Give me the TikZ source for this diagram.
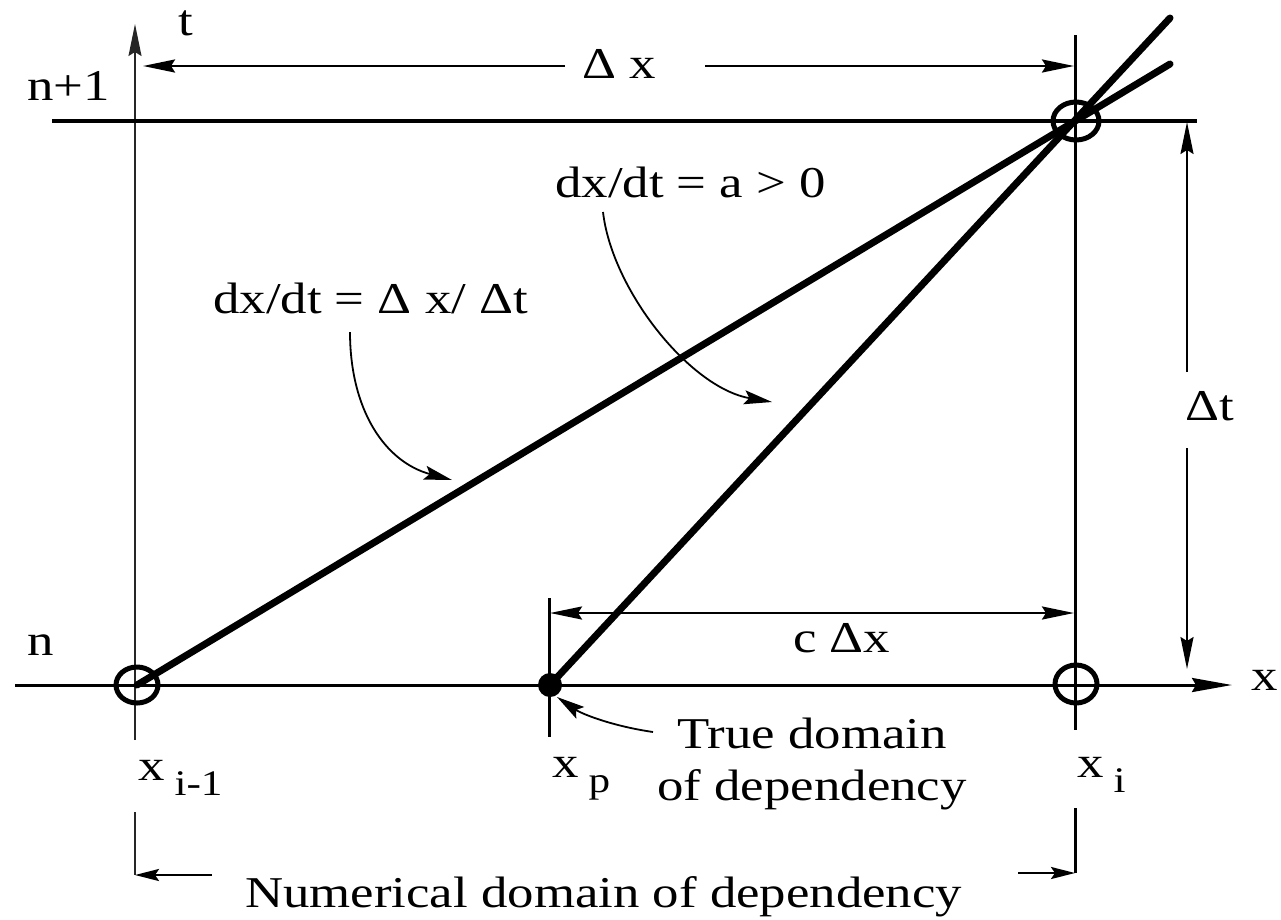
\documentclass[tikz,border=0pt]{standalone}
\usepackage{fontspec}
\setmainfont{Liberation Serif}[FakeStretch=1.2]
\usetikzlibrary{arrows.meta}
\newcommand\mysub[1]{\hspace{10pt}\raisebox{-15pt}{\fontsize{36}{40}\selectfont #1}}
\begin{document}
\begin{tikzpicture}[x=1pt,y=-1pt,
  every node/.style={font=\fontsize{44}{52}\selectfont, inner sep=0pt, anchor=base west},
  thinline/.style={line width=1.5pt, black!85},
  axisline/.style={line width=3pt},
  topline/.style={line width=3.5pt},
  boldline/.style={line width=7pt, line cap=round},
  circ/.style={line width=5pt},
  dimline/.style={line width=2.5pt},
  tipA/.style={-{Stealth[length=40pt,width=14pt,inset=4pt]}},
  tipB/.style={-{Stealth[length=32pt,width=13pt,inset=4pt]}},
  tipC/.style={-{Stealth[length=24pt,width=12pt,inset=4pt]}},
  curvearrow/.style={line width=1.8pt, -{Stealth[length=28pt,width=14pt,inset=5pt]}}
]
\useasboundingbox (0,0) rectangle (1281,919);

% key points
\coordinate (Pim1) at (137,685);
\coordinate (Pp) at (550,685);
\coordinate (Pi) at (1076,684);
\coordinate (Q) at (1076,121);
\coordinate (E1) at (1170,64);
\coordinate (E2) at (1170,18);

% horizontal levels
\coordinate (NpL) at (52,121);
\coordinate (NpR) at (1197,121);
\coordinate (XL) at (15,685);
\coordinate (XR) at (1232,685);

% t axis / x_{i-1} vertical
\coordinate (TB) at (135,740);
\coordinate (TT) at (135,24);
\draw[thinline, tipB] (TB) -- (TT);

% x_i vertical
\coordinate (XiT) at (1075,35);
\coordinate (XiB) at (1075,730);
\draw[axisline] (XiT) -- (XiB);

% x_p vertical
\coordinate (XpT) at (549,598);
\coordinate (XpB) at (549,737);
\draw[axisline] (XpT) -- (XpB);

% levels
\draw[topline] (NpL) -- (NpR);
\draw[axisline, tipA] (XL) -- (XR);

% Delta x (top)
\coordinate (DxL) at (143,66);
\coordinate (DxR) at (1074,66);
\coordinate (DxLm) at (565,66);
\coordinate (DxRm) at (705,66);
\draw[dimline, tipB] (DxLm) -- (DxL);
\draw[dimline, tipB] (DxRm) -- (DxR);
\node (dxlab) at (582,78) {Δ x};

% c Delta x
\coordinate (cL) at (550,613);
\coordinate (cR) at (1074,613);
\draw[dimline, {Stealth[length=32pt,width=13pt,inset=4pt]}-{Stealth[length=32pt,width=13pt,inset=4pt]}] (cL) -- (cR);
\node (cdx) at (793,652) {c Δx};

% Delta t
\coordinate (DtT) at (1187,122);
\coordinate (DtB) at (1187,669);
\coordinate (DtTm) at (1187,372);
\coordinate (DtBm) at (1187,448);
\draw[line width=2pt, tipB] (DtTm) -- (DtT);
\draw[line width=2pt, tipB] (DtBm) -- (DtB);
\node (dtlab) at (1185,420) {Δt};

% bottom numerical domain
\coordinate (BLt) at (135,812);
\coordinate (BL) at (135,875);
\coordinate (BLs) at (212,875);
\coordinate (BRt) at (1075,808);
\coordinate (BR) at (1075,873);
\coordinate (BRs) at (1018,873);
\draw[thinline] (BLt) -- (BL);
\draw[axisline] (BRt) -- (BR);
\draw[dimline, tipC] (BLs) -- (BL);
\draw[dimline, tipC] (BRs) -- (BR);
\node (numdom) at (245,907) {Numerical domain of dependency};

% characteristics
\draw[boldline] (Pim1) -- (E1);
\draw[boldline] (Pp) -- (E2);

% circles
\draw[circ] (Q) ellipse [x radius=23, y radius=19];
\draw[circ] (Pim1) ellipse [x radius=21, y radius=18];
\draw[circ] (Pi) ellipse [x radius=21, y radius=19];
\fill (Pp) circle [radius=12];

% labels
\node (tlab) at (178,35) {t};
\node (np1) at (27,100) {n+1};
\node (nlab) at (27,655) {n};
\node (xlab) at (1251,690) {x};
\node (xim1) at (138,780) {x\mysub{i-1}};
\node (xp) at (552,777) {x\mysub{p}};
\node (xi) at (1077,777) {x\mysub{i}};

\node (slopeA) at (555,197) {dx/dt = a > 0};
\node (slopeB) at (213,313) {dx/dt = Δ x/ Δt};
\node[anchor=base, align=center] (truedom) at (812,800) {True domain\\of dependency};

% curved arrows
\coordinate (sB) at (350,332);
\coordinate (eB) at (452,480);
\draw[curvearrow] (sB) .. controls (350,410) and (385,462) .. (eB);
\coordinate (sA) at (603,212);
\coordinate (eA) at (772,402);
\draw[curvearrow] (sA) .. controls (612,290) and (690,388) .. (eA);
\coordinate (sT) at (653,732);
\coordinate (eT) at (557,697);
\draw[curvearrow] (sT) .. controls (612,726) and (582,714) .. (eT);
\end{tikzpicture}
\end{document}
